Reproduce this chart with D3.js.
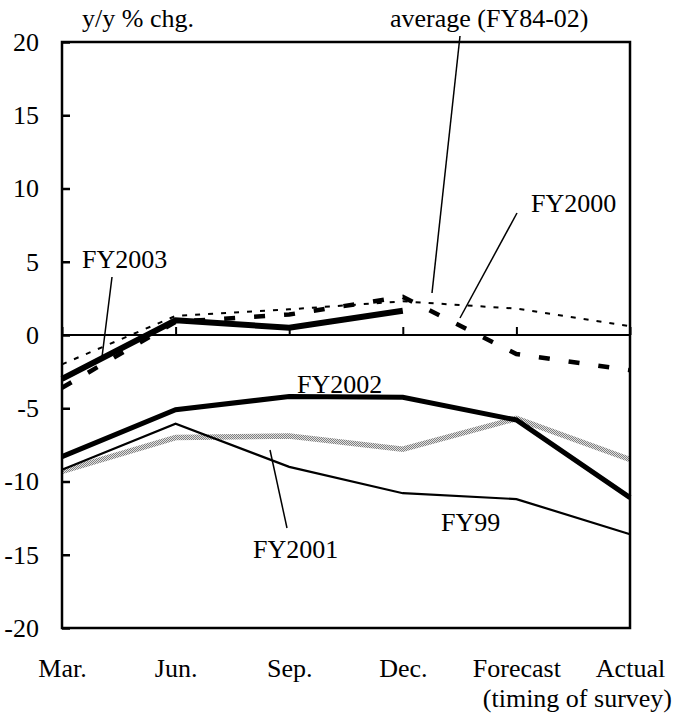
<!DOCTYPE html>
<html>
<head>
<meta charset="utf-8">
<script src="https://cdn.jsdelivr.net/npm/d3@7"></script>
<style>
  body { margin: 0; background: #fff; }
  text { font-family: "Liberation Serif", "Times New Roman", serif; fill: #000; }
</style>
</head>
<body>
<div class="viz"></div>
<script>
/* data */
const surveys = ["Mar.", "Jun.", "Sep.", "Dec.", "Forecast", "Actual"];
const yTicks = [-20, -15, -10, -5, 0, 5, 10, 15, 20];

const fy99 = [-9.2, -6.05, -9.0, -10.8, -11.2, -13.6];
const fy2000 = [-3.6, 0.9, 1.4, 2.6, -1.3, -2.4];
const fy2001 = [-9.3, -7.0, -6.9, -7.8, -5.7, -8.5];
const fy2002 = [-8.3, -5.1, -4.2, -4.25, -5.8, -11.1];
const fy2003 = [-3.0, 1.0, 0.5, 1.65];
const average = [-2.0, 1.3, 1.75, 2.3, 1.8, 0.6];

const padding = ({ top: 42, bottom: 89, left: 62, right: 47 });
const width = 677, height = 717;

var svg = d3.select(".viz")
  .append("svg")
  .attr("width", width)
  .attr("height", height);

// grey dotted texture for the FY2001 line
var pat = svg.append("defs").append("pattern")
  .attr("id", "hatch")
  .attr("patternUnits", "userSpaceOnUse")
  .attr("width", 2).attr("height", 2);
pat.append("rect").attr("width", 2).attr("height", 2).attr("fill", "#e0e0e0");
pat.append("rect").attr("width", 1).attr("height", 1).attr("fill", "#808080");
pat.append("rect").attr("x", 1).attr("y", 1).attr("width", 1).attr("height", 1).attr("fill", "#808080");

var xscale = d3.scalePoint()
  .domain(surveys)
  .range([padding.left, width - padding.right]);

var yscale = d3.scaleLinear()
  .domain([-20, 20])
  .range([height - padding.bottom, padding.top]);

/* y axis, ticks pointing inward; plain hyphen for negatives */
var yaxis = d3.axisLeft(yscale)
  .tickValues(yTicks)
  .tickSize(-8)
  .tickPadding(23)
  .tickFormat((d) => String(d));

var gy = svg.append("g")
  .attr("transform", "translate(" + padding.left + ",0)")
  .call(yaxis);
gy.select(".domain").remove();
gy.selectAll("line").attr("stroke", "#000").attr("stroke-width", 2.5);
gy.selectAll("text").style("font-size", "26px");

/* zero line with small upward ticks */
var zaxis = d3.axisBottom(xscale)
  .tickSize(-8)
  .tickFormat("");
var gz = svg.append("g")
  .attr("transform", "translate(0," + yscale(0) + ")")
  .call(zaxis);
gz.select(".domain").attr("stroke-width", 2).attr("d", "M" + xscale.range()[0] + ",0H" + xscale.range()[1]);
gz.selectAll("line").attr("stroke", "#000").attr("stroke-width", 2);

/* category labels under the frame */
var xaxis = d3.axisBottom(xscale)
  .tickSize(0)
  .tickPadding(30.5);
var gx = svg.append("g")
  .attr("transform", "translate(0," + (height - padding.bottom) + ")")
  .call(xaxis);
gx.select(".domain").remove();
gx.selectAll("text").style("font-size", "26px");

/* the lines */
var line = d3.line()
  .x((d, i) => xscale(surveys[i]))
  .y((d) => yscale(d));

var series = [
  { values: fy2001, stroke: "url(#hatch)", width: 5.5, dash: null },
  { values: fy99, stroke: "#000", width: 2.2, dash: null },
  { values: fy2002, stroke: "#000", width: 5, dash: null },
  { values: average, stroke: "#000", width: 2, dash: "5,8" },
  { values: fy2000, stroke: "#000", width: 4.5, dash: "11,19" },
  { values: fy2003, stroke: "#000", width: 6, dash: null }
];

svg.append("g")
  .selectAll("path")
  .data(series)
  .enter()
  .append("path")
  .attr("d", (d) => line(d.values))
  .attr("fill", "none")
  .attr("stroke", (d) => d.stroke)
  .attr("stroke-width", (d) => d.width)
  .attr("stroke-dasharray", (d) => d.dash)
  .attr("stroke-linejoin", "miter")
  .attr("stroke-linecap", "butt");

/* frame */
svg.append("rect")
  .attr("x", padding.left)
  .attr("y", padding.top)
  .attr("width", width - padding.left - padding.right)
  .attr("height", height - padding.top - padding.bottom)
  .attr("fill", "none")
  .attr("stroke", "#000")
  .attr("stroke-width", 2.5);

/* labels and leader lines */
var labels = [
  { text: "y/y % chg.", x: 82, y: 27 },
  { text: "average (FY84-02)", x: 390, y: 27 },
  { text: "FY2000", x: 531, y: 212 },
  { text: "FY2003", x: 82, y: 268 },
  { text: "FY2002", x: 297, y: 393 },
  { text: "FY2001", x: 253, y: 558 },
  { text: "FY99", x: 441, y: 531 }
];
svg.append("g")
  .selectAll("text")
  .data(labels)
  .enter()
  .append("text")
  .attr("x", (d) => d.x)
  .attr("y", (d) => d.y)
  .style("font-size", "26px")
  .text((d) => d.text);

svg.append("text")
  .attr("x", 672)
  .attr("y", 707)
  .attr("text-anchor", "end")
  .style("font-size", "26px")
  .text("(timing of survey)");

var leaders = [
  [460, 36, 432, 293],
  [517, 213, 460, 318],
  [112, 277, 102, 357],
  [287, 528, 270, 450]
];
svg.append("g")
  .selectAll("line")
  .data(leaders)
  .enter()
  .append("line")
  .attr("x1", (d) => d[0]).attr("y1", (d) => d[1])
  .attr("x2", (d) => d[2]).attr("y2", (d) => d[3])
  .attr("stroke", "#000")
  .attr("stroke-width", 1.5);
</script>
</body>
</html>
